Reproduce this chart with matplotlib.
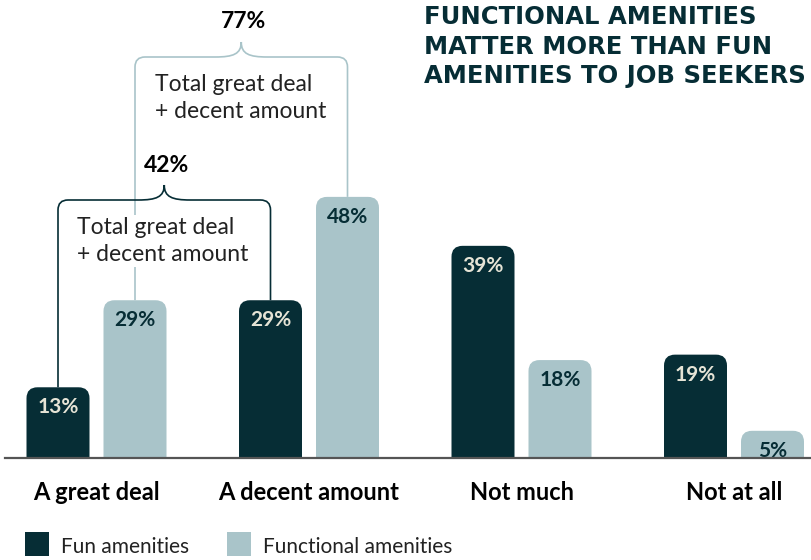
import matplotlib.pyplot as plt
from matplotlib.patches import Rectangle, PathPatch
from matplotlib.path import Path

categories = ["A great deal", "A decent amount", "Not much", "Not at all"]
fun = [13, 29, 39, 19]
functional = [29, 48, 18, 5]
series_names = ["Fun amenities", "Functional amenities"]
title = "FUNCTIONAL AMENITIES\nMATTER MORE THAN FUN\nAMENITIES TO JOB SEEKERS"
bracket_note = "Total great deal\n+ decent amount"

DARK = "#062d35"
LIGHT = "#a9c4c9"
CREAM = "#e6e4d6"
W, H = 811, 560

fig = plt.figure(figsize=(W / 100, H / 100), dpi=100)
ax = fig.add_axes([0, 0, 1, 1])
ax.axis("off")

# pixel-calibrated scales: one group = 212.5 px, 1 % = 5.44 px, baseline at y=458 px
PX_X = 1 / 212.5
PX_Y = 1 / 5.44
x0 = 96.5
base = 458
ax.set_xlim(-x0 * PX_X, (W - x0) * PX_X)
ax.set_ylim(-(H - base) * PX_Y, base * PX_Y)


def px(x):
    return (x - x0) * PX_X


def py(y):
    return (base - y) * PX_Y


off = 38.5 * PX_X
bw = 63 * PX_X
rx, ry = 11 * PX_X, 11 * PX_Y


def rounded_bar(xc, h, color):
    l, r = xc - bw / 2, xc + bw / 2
    verts = [(l, 0), (l, h - ry), (l, h), (l + rx, h), (r - rx, h), (r, h),
             (r, h - ry), (r, 0), (l, 0)]
    codes = [Path.MOVETO, Path.LINETO, Path.CURVE3, Path.CURVE3, Path.LINETO,
             Path.CURVE3, Path.CURVE3, Path.LINETO, Path.CLOSEPOLY]
    ax.add_patch(PathPatch(Path(verts, codes), fc=color, ec="none", zorder=2))


for i, (a, b) in enumerate(zip(fun, functional)):
    rounded_bar(i - off, a, DARK)
    rounded_bar(i + off, b, LIGHT)
    ax.text(i - off, a - 20 * PX_Y, f"{a}%", ha="center", va="center",
            fontsize=15, fontweight="bold", color=CREAM, family="Lato", zorder=3)
    ax.text(i + off, b - 20 * PX_Y, f"{b}%", ha="center", va="center",
            fontsize=15, fontweight="bold", color=DARK, family="Lato", zorder=3)
    ax.text(i, py(492), categories[i], ha="center", va="center",
            fontsize=17, fontweight="bold", color="black", family="Lato")

ax.plot([px(5), px(W)], [0, 0], color="#555555", lw=1.6, zorder=4)


def bracket(xl, yl, xr, yr, ytop, color):
    r = 10
    c = 8
    cx = (xl + xr) / 2
    hw = 26 * PX_X
    peak = ytop + 15 * PX_Y
    verts = [(xl, yl), (xl, ytop - r * PX_Y), (xl, ytop), (xl + r * PX_X, ytop),
             (cx - hw, ytop),
             (cx - c * PX_X, ytop), (cx, ytop + 3 * PX_Y), (cx, peak),
             (cx, ytop + 3 * PX_Y), (cx + c * PX_X, ytop), (cx + hw, ytop),
             (xr - r * PX_X, ytop), (xr, ytop), (xr, ytop - r * PX_Y), (xr, yr)]
    codes = [Path.MOVETO, Path.LINETO, Path.CURVE3, Path.CURVE3, Path.LINETO,
             Path.CURVE4, Path.CURVE4, Path.CURVE4,
             Path.CURVE4, Path.CURVE4, Path.CURVE4,
             Path.LINETO, Path.CURVE3, Path.CURVE3, Path.LINETO]
    ax.add_patch(PathPatch(Path(verts, codes), fc="none", ec=color, lw=1.2, zorder=1))
    return cx, peak


# light bracket: functional great deal + decent amount
s2 = functional[0] + functional[1]
cx, pk = bracket(0 + off, functional[0], 1 + off, functional[1], py(57), LIGHT)
ax.text(cx + 2 * PX_X, py(22), f"{s2}%", ha="center", va="center",
        fontsize=16.5, fontweight="bold", color="black", family="Lato")
ax.text(px(155), py(98), bracket_note, ha="left", va="center",
        fontsize=16.5, color="#222222", family="Lato", linespacing=1.4)

# dark bracket: fun great deal + decent amount
s1 = fun[0] + fun[1]
cx, pk = bracket(0 - off, fun[0], 1 - off, fun[1], py(200), DARK)
ax.text(cx + 2 * PX_X, py(165), f"{s1}%", ha="center", va="center",
        fontsize=16.5, fontweight="bold", color="black", family="Lato")
ax.text(px(77), py(241), bracket_note, ha="left", va="center",
        fontsize=16.5, color="#222222", family="Lato", linespacing=1.4, zorder=2,
        bbox=dict(fc="white", ec="none", pad=1))

ax.text(px(424), py(5), title, ha="left", va="top",
        fontsize=17.5, fontweight="bold", color=DARK, family="DejaVu Sans", linespacing=1.3)

# legend
for name, col, lx in zip(series_names, [DARK, LIGHT], [25, 227]):
    ax.add_patch(Rectangle((px(lx), py(556)), 24 * PX_X, 24 * PX_Y,
                           fc=col, ec="none", clip_on=False))
    ax.text(px(lx + 36), py(547), name, ha="left", va="center",
            fontsize=15, color="#222222", family="Lato")

fig.savefig("out.png", dpi=100)
